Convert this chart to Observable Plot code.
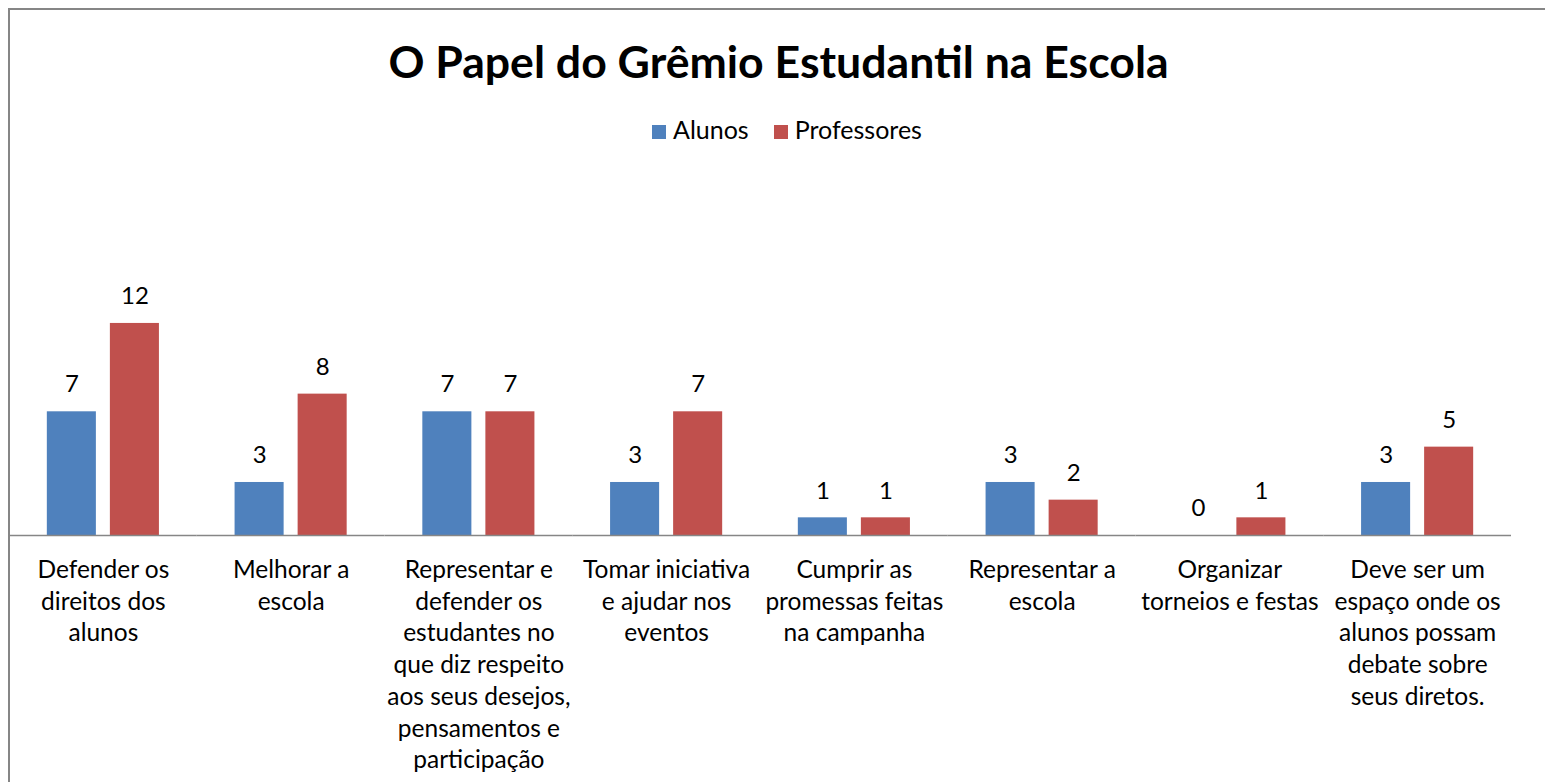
<!DOCTYPE html>
<html>
<head>
<meta charset="utf-8">
<script src="https://cdn.jsdelivr.net/npm/d3@7"></script>
<script src="https://cdn.jsdelivr.net/npm/@observablehq/plot@0.6"></script>
<style>
  body { margin: 0; background: #fff; font-family: Lato, "Open Sans", sans-serif; }
  #wrap { position: relative; width: 1545px; height: 782px; overflow: hidden; background: #fff; }
  #frame { position: absolute; left: 8px; top: 8px; width: 3000px; height: 3000px;
           border-left: 2px solid #868686; border-top: 2px solid #868686; box-sizing: border-box; }
  #title { position: absolute; left: 6px; width: 1545px; top: 34px; text-align: center;
           font-weight: 700; font-size: 44.6px; line-height: 1.2; color: #000; white-space: nowrap; }
  #legend { position: absolute; left: 652px; top: 113.6px; display: flex; align-items: center;
            font-size: 25px; line-height: 30px; color: #000; white-space: nowrap; }
  .sw { display: inline-block; width: 14px; height: 14px; margin-right: 7px; position: relative; top: 3px; }
  .item { display: flex; align-items: center; margin-right: 25px; }
  #chart { position: absolute; left: 0; top: 150px; }
</style>
</head>
<body>
<div id="wrap">
  <div id="frame"></div>
  <div id="title"></div>
  <div id="legend"></div>
  <div id="chart"></div>
</div>
<script>
const titleText = "O Papel do Grêmio Estudantil na Escola";
const series = ["Alunos", "Professores"];
const seriesColors = ["#4F81BD", "#C0504D"];
const categories = [
  "Defender os direitos dos alunos",
  "Melhorar a escola",
  "Representar e defender os estudantes no que diz respeito aos seus desejos, pensamentos e participação",
  "Tomar iniciativa e ajudar nos eventos",
  "Cumprir as promessas feitas na campanha",
  "Representar a escola",
  "Organizar torneios e festas",
  "Deve ser um espaço onde os alunos possam debate sobre seus diretos."
];
const tickLabels = [
  "Defender os\ndireitos dos\nalunos",
  "Melhorar a\nescola",
  "Representar e\ndefender os\nestudantes no\nque diz respeito\naos seus desejos,\npensamentos e\nparticipação",
  "Tomar iniciativa\ne ajudar nos\neventos",
  "Cumprir as\npromessas feitas\nna campanha",
  "Representar a\nescola",
  "Organizar\ntorneios e festas",
  "Deve ser um\nespaço onde os\nalunos possam\ndebate sobre\nseus diretos."
];
const alunos = [7, 3, 7, 3, 1, 3, 0, 3];
const professores = [12, 8, 7, 7, 1, 2, 1, 5];

const data = [];
categories.forEach((c, i) => {
  data.push({category: c, series: series[0], value: alunos[i]});
  data.push({category: c, series: series[1], value: professores[i]});
});

document.getElementById("title").textContent = titleText;
const legend = document.getElementById("legend");
series.forEach((s, i) => {
  const item = document.createElement("div");
  item.className = "item";
  const sw = document.createElement("span");
  sw.className = "sw";
  sw.style.background = seriesColors[i];
  item.appendChild(sw);
  item.appendChild(document.createTextNode(s));
  legend.appendChild(item);
});

const chart = Plot.plot({
  width: 1545,
  height: 632,
  marginLeft: 9,
  marginRight: 34,
  marginTop: 137.6,
  marginBottom: 247,
  fx: {domain: categories, padding: 0, round: false, label: null},
  x: {domain: series, paddingInner: 0.222, paddingOuter: 0.6, round: false, axis: null},
  y: {domain: [0, 14], axis: null},
  color: {domain: series, range: seriesColors},
  style: {fontFamily: "Lato, 'Open Sans', sans-serif", fontSize: "23px", color: "#000", background: "transparent"},
  marks: [
    Plot.barY(data, {fx: "category", x: "series", y: "value", fill: "series"}),
    Plot.ruleY([0], {stroke: "#868686", strokeWidth: 1.5}),
    Plot.text(data, {fx: "category", x: "series", y: "value", text: d => String(d.value),
      lineAnchor: "middle", dy: -27, fontSize: 24, fill: "#000"}),
    Plot.axisFx({anchor: "bottom", tickSize: 0, tickPadding: 20, label: null,
      tickFormat: d => tickLabels[categories.indexOf(d)], fontSize: 24.5, lineHeight: 1.294, fill: "#000"})
  ]
});
document.getElementById("chart").appendChild(chart);
</script>
</body>
</html>
